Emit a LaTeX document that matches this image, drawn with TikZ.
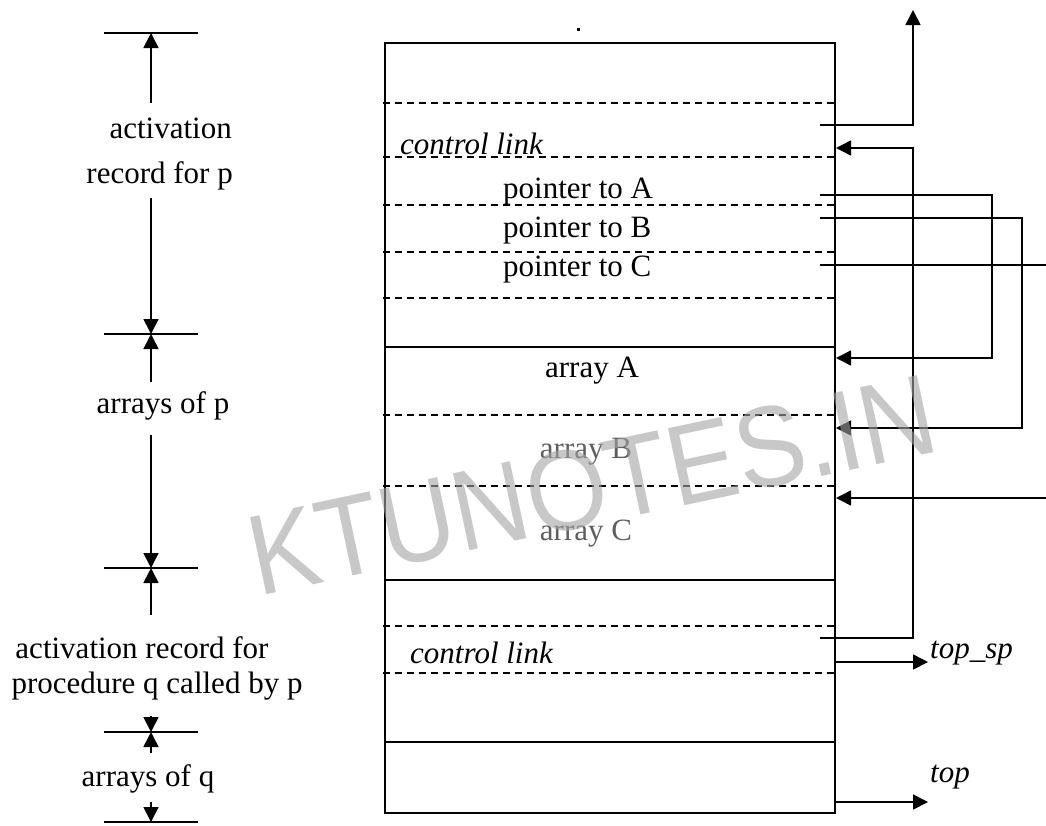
\documentclass[tikz,border=0pt]{standalone}
\usepackage{fontspec}
\setmainfont{Liberation Serif}
\newfontfamily\wmfont{Liberation Sans}
\usetikzlibrary{arrows.meta}
\definecolor{wmgray}{RGB}{163,163,163}
\definecolor{dimtext}{RGB}{95,95,95}
\begin{document}
\begin{tikzpicture}[x=1pt,y=-1pt,
  boxline/.style={line width=2.2pt},
  sepline/.style={line width=1.8pt, dash pattern=on 7pt off 5pt},
  conn/.style={line width=1.6pt},
  arr/.style={-{Triangle[length=15pt,width=15pt]}},
  tick/.style={line width=1.6pt},
  lbl/.style={font=\fontsize{31}{36}\selectfont, inner sep=0pt, anchor=base},
  ilbl/.style={font=\fontsize{31}{36}\selectfont\itshape, inner sep=0pt, anchor=base west},
]
\useasboundingbox (0,0) rectangle (1046,825);

% ---------- memory block ----------
\foreach \yy in {103,157,205,252,298,415,486,626,673}
  \draw[sepline] (383,\yy) -- (835,\yy);
\foreach \yy in {347,580,742}
  \draw[boxline] (385,\yy) -- (835,\yy);
\draw[boxline] (385,43) rectangle (835,813);
\fill (577,28) rectangle (580,31);

% texts inside
\node[ilbl] (clp) at (400,154) {control link};
\node[lbl, anchor=base west] (pA) at (503,198) {pointer to A};
\node[lbl, anchor=base west] (pB) at (503,237) {pointer to B};
\node[lbl, anchor=base west] (pC) at (503,276) {pointer to C};
\node[lbl] (arA) at (592,377) {array A};
\node[lbl, text=dimtext] (arB) at (586,458) {array B};
\node[lbl, text=dimtext] (arC) at (586,540) {array C};
\node[ilbl] (clq) at (410,663) {control link};

% ---------- right-hand connectors ----------
\coordinate (s1) at (820,125);
\coordinate (up1) at (913,10);
\draw[conn,arr] (s1) -| (up1);

\coordinate (cq) at (820,638);
\coordinate (bq) at (913,148);
\coordinate (cp) at (836,148);
\draw[conn,arr] (cq) -| (bq) -- (cp);

\coordinate (pa) at (820,195);
\coordinate (ba) at (992,358);
\coordinate (ta) at (836,358);
\draw[conn,arr] (pa) -| (ba) -- (ta);

\coordinate (pb) at (820,218);
\coordinate (bb) at (1022,428);
\coordinate (tb) at (836,428);
\draw[conn,arr] (pb) -| (bb) -- (tb);

\coordinate (pc) at (820,265);
\coordinate (pcEnd) at (1046,265);
\draw[conn] (pc) -- (pcEnd);
\coordinate (cIn) at (1046,498);
\coordinate (tc) at (836,498);
\draw[conn,arr] (cIn) -- (tc);

\coordinate (tsp0) at (836,662);
\coordinate (tsp1) at (928,662);
\draw[conn,arr] (tsp0) -- (tsp1);
\node[ilbl] (topsp) at (930,658) {top\_sp};

\coordinate (tp0) at (836,802);
\coordinate (tp1) at (928,802);
\draw[conn,arr] (tp0) -- (tp1);
\node[ilbl] (toplbl) at (930,782) {top};

% ---------- left-hand dimension marks ----------
\foreach \yy/\nm in {33/t1,334/t2,568/t3,732/t4,822/t5}{
  \coordinate (\nm L) at (104,\yy);
  \coordinate (\nm R) at (198,\yy);
  \coordinate (\nm) at (151,\yy);
  \draw[tick] (\nm L) -- (\nm R);
}
\node[lbl, anchor=base east] (act1) at (232,138) {activation};
\node[lbl, anchor=base east] (act2) at (233,183) {record for p};
\coordinate (a1) at (151,103);
\coordinate (a2) at (151,198);
\draw[conn,arr] (a1) -- (t1);
\draw[conn,arr] (a2) -- (t2);

\node[lbl] (arp) at (163,413) {arrays of p};
\coordinate (b1) at (151,382);
\coordinate (b2) at (151,435);
\draw[conn,arr] (b1) -- (t2);
\draw[conn,arr] (b2) -- (t3);

\node[lbl] (arq1) at (142,658) {activation record for};
\node[lbl] (arq2) at (157,693) {procedure q called by p};
\coordinate (c1) at (151,615);
\coordinate (c2) at (151,716);
\draw[conn,arr] (c1) -- (t3);
\draw[conn,arr] (c2) -- (t4);

\node[lbl] (arqq) at (148,786) {arrays of q};
\coordinate (d1) at (151,753);
\coordinate (d2) at (151,802);
\draw[conn,arr] (d1) -- (t4);
\draw[conn,arr] (d2) -- (t5);

% ---------- watermark ----------
\node[font=\wmfont\fontsize{104}{110}\selectfont, text=wmgray, text opacity=0.6,
      inner sep=0pt, rotate=12] (wm) at (592,485) {\scalebox{1}[1.1]{KTUNOTES.IN}};
\end{tikzpicture}
\end{document}
